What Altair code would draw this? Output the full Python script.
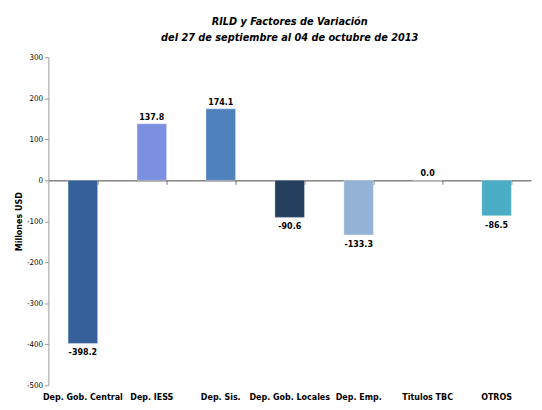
import altair as alt
import pandas as pd

categories = ["Dep. Gob. Central", "Dep. IESS", "Dep. Sis.", "Dep. Gob. Locales",
              "Dep. Emp.", "Titulos TBC", "OTROS"]
values = [-398.2, 137.8, 174.1, -90.6, -133.3, 0.0, -86.5]
colors = ["#36609A", "#7C90E2", "#4F81BD", "#253F5F", "#95B3D7", "#4F81BD", "#4BACC6"]

df = pd.DataFrame({"cat": categories, "val": values, "col": colors})
df["label"] = df["val"].map(lambda v: f"{v:.1f}")
df["pos"] = df["val"] >= 0

FONT = "DejaVu Sans Condensed, Liberation Sans Narrow, Roboto, sans-serif"

xscale = alt.Scale(domain=categories, paddingInner=0.57, paddingOuter=0.285)
yscale = alt.Scale(domain=[-500, 300], nice=False)

yaxis = alt.Axis(values=[-500, -400, -300, -200, -100, 0, 100, 200, 300], grid=False,
                 labelExpr="replace(datum.label, '\u2212', '-')",
                 domainColor="#999999", tickColor="#999999", tickSize=4,
                 labelFontSize=8, labelFont=FONT, labelColor="#000000",
                 titleFontSize=9, titleFont=FONT, titleFontWeight="bold",
                 titleColor="#000000", titlePadding=3)

x_bottom = alt.X("cat:N", sort=categories, scale=xscale, title=None,
                 axis=alt.Axis(labelAngle=0, domain=False, ticks=False, labelFontWeight="bold",
                               labelFontSize=9, labelFont=FONT, labelColor="#000000", labelPadding=7))

bars = alt.Chart(df).mark_bar(size=30, stroke="#ffffff", strokeOpacity=0.3).encode(
    x=x_bottom,
    y=alt.Y("val:Q", scale=yscale, title="Millones USD", axis=yaxis),
    color=alt.Color("col:N", scale=None),
)

lab_pos = alt.Chart(df[df["pos"]]).mark_text(dy=-7, fontSize=9, fontWeight="bold", font=FONT,
                                             color="#000000").encode(
    x=alt.X("cat:N", sort=categories, scale=xscale, axis=None),
    y=alt.Y("val:Q", scale=yscale, title="Millones USD", axis=yaxis),
    text="label:N",
)
lab_neg = alt.Chart(df[~df["pos"]]).mark_text(dy=9, fontSize=9, fontWeight="bold", font=FONT,
                                              color="#000000").encode(
    x=alt.X("cat:N", sort=categories, scale=xscale, axis=None),
    y=alt.Y("val:Q", scale=yscale, title="Millones USD", axis=yaxis),
    text="label:N",
)

zero_axis = alt.Chart(df).mark_bar(opacity=0).encode(
    x=alt.X("cat:N", sort=categories, scale=xscale, title=None,
            axis=alt.Axis(orient="bottom", offset=-208, labels=False, domain=True, ticks=True,
                          tickBand="extent", domainColor="#444444", tickColor="#777777",
                          tickSize=4, tickWidth=1, domainWidth=1)),
    y=alt.Y("val:Q", scale=yscale, title="Millones USD", axis=yaxis),
)

chart = alt.layer(bars, zero_axis, lab_pos, lab_neg).resolve_axis(x="independent").properties(
    width=490, height=333,
    title=alt.Title(["RILD y Factores de Variación", "del 27 de septiembre al 04 de octubre de 2013"],
                    font=FONT, fontSize=11, fontStyle="italic", fontWeight="bold",
                    color="#000000", anchor="middle", offset=10, lineHeight=17),
    autosize=alt.AutoSizeParams(type="none"),
    padding={"left": 41, "top": 47, "right": 3, "bottom": 14},
).configure_view(stroke=None)

chart.save("out.html", embed_options={"renderer": "svg", "actions": False})
